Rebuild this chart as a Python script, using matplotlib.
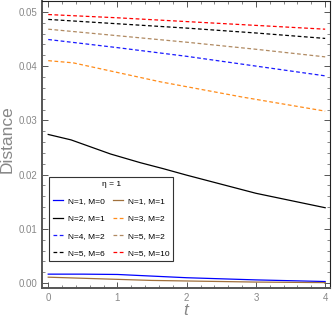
import numpy as np
import matplotlib
matplotlib.use("Agg")
import matplotlib.pyplot as plt
from matplotlib.ticker import MultipleLocator

plt.rcParams["font.family"] = ["Liberation Sans", "DejaVu Sans"]

# curves (t, distance)
t_coarse = [0, 1, 2, 3, 4]
t_fine = [0, 0.33, 0.9, 1.33, 1.66, 2, 3, 4]
t_small = [0, 0.5, 1, 1.5, 2, 3, 4]
t_orange = [0, 0.36, 1.62, 2.8, 4]

n1_m0 = [0.00166, 0.00166, 0.0016, 0.0013, 0.0010, 0.0006, 0.0003]
n1_m1 = [0.0011, 0.0009, 0.0007, 0.0005, 0.0004, 0.0002, 0.0001]
n2_m1 = [0.0274, 0.0264, 0.0238, 0.0222, 0.0211, 0.0199, 0.01656, 0.0139]
n3_m2 = [0.0410, 0.0406, 0.0371, 0.0343, 0.0317]
n4_m2 = [0.0449, 0.0434, 0.0418, 0.0400, 0.0382]
n5_m2 = [0.0468, 0.0456, 0.0444, 0.0431, 0.0417]
n5_m6 = [0.0486, 0.0478, 0.0470, 0.0461, 0.0451]
n5_m10 = [0.0495, 0.0489, 0.0482, 0.0475, 0.0468]

series = [
    ("N=1, M=0", t_small, n1_m0, "#0000ff", "-"),
    ("N=1, M=1", t_small, n1_m1, "#a0703c", "-"),
    ("N=2, M=1", t_fine, n2_m1, "#000000", "-"),
    ("N=3, M=2", t_orange, n3_m2, "#ff8c1a", "--"),
    ("N=4, M=2", t_coarse, n4_m2, "#1a1aff", "--"),
    ("N=5, M=2", t_coarse, n5_m2, "#b08a62", "--"),
    ("N=5, M=6", t_coarse, n5_m6, "#000000", "--"),
    ("N=5, M=10", t_coarse, n5_m10, "#ff0000", "--"),
]

fig = plt.figure(figsize=(3.32, 3.24), dpi=100)
ax = fig.add_axes([0.1265, 0.111, 0.8675, 0.886])

handles = []
for label, tt, yy, color, ls in series:
    line, = ax.plot(tt, yy, color=color, ls=ls, lw=0.9, label=label,
                    dashes=(3, 2) if ls == "--" else (None, None))
    handles.append(line)

ax.set_xlim(-0.09, 4.07)
ax.set_ylim(-0.0009, 0.052)
ax.xaxis.set_major_locator(MultipleLocator(1))
ax.xaxis.set_minor_locator(MultipleLocator(0.2))
ax.yaxis.set_major_locator(MultipleLocator(0.01))
ax.yaxis.set_minor_locator(MultipleLocator(0.002))
ax.yaxis.set_major_formatter(matplotlib.ticker.FormatStrFormatter("%.2f"))

ax.tick_params(which="both", direction="in", top=True, right=True,
               colors="#555555", labelcolor="#888888", labelsize=7)
ax.tick_params(which="major", length=4, width=0.7)
ax.tick_params(which="minor", length=2, width=0.5)
for side in ["left", "bottom"]:
    ax.spines[side].set_color("#555555")
    ax.spines[side].set_linewidth(1.4)
for side in ["top", "right"]:
    ax.spines[side].set_color("#222222")
    ax.spines[side].set_linewidth(0.8)

ax.set_ylabel("Distance", fontsize=12.5, color="#888888")
ax.yaxis.set_label_coords(-0.095, 0.519)
ax.set_xlabel("t", fontsize=12.5, color="#888888", style="italic", labelpad=0)

# legend filled row by row, like the reference
order = [0, 2, 4, 6, 1, 3, 5, 7]
leg = ax.legend([handles[i] for i in order], [series[i][0] for i in order],
                ncol=2, loc="upper left", bbox_to_anchor=(0.024, 0.387),
                borderaxespad=0, title="η = 1", fontsize=6, title_fontsize=6,
                fancybox=False, framealpha=1, edgecolor="#333333",
                handlelength=1.2, handletextpad=0.6, columnspacing=1.0,
                labelspacing=1.15, borderpad=0.45)
leg.get_frame().set_linewidth(0.8)

fig.savefig("out.png", dpi=100)
